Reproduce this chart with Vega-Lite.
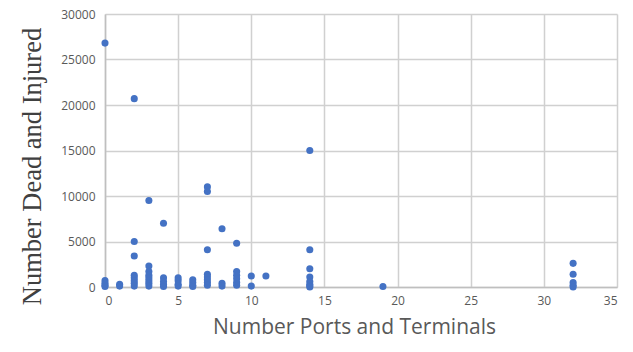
{
  "$schema": "https://vega.github.io/schema/vega-lite/v6.json",
  "width": 512,
  "height": 273,
  "autosize": "none",
  "padding": {"left": 105, "top": 14, "right": 16, "bottom": 65},
  "background": "white",
  "config": {"view": {"stroke": null}},
  "data": {"values": [
    {"ports": 0, "casualties": 26800}, {"ports": 0, "casualties": 700}, {"ports": 0, "casualties": 400}, {"ports": 0, "casualties": 200}, {"ports": 0, "casualties": 50},
    {"ports": 1, "casualties": 300}, {"ports": 1, "casualties": 100},
    {"ports": 2, "casualties": 20700}, {"ports": 2, "casualties": 5000}, {"ports": 2, "casualties": 3400}, {"ports": 2, "casualties": 1300}, {"ports": 2, "casualties": 1000}, {"ports": 2, "casualties": 700}, {"ports": 2, "casualties": 400}, {"ports": 2, "casualties": 100},
    {"ports": 3, "casualties": 9500}, {"ports": 3, "casualties": 2300}, {"ports": 3, "casualties": 1700}, {"ports": 3, "casualties": 1300}, {"ports": 3, "casualties": 1000}, {"ports": 3, "casualties": 700}, {"ports": 3, "casualties": 400}, {"ports": 3, "casualties": 100},
    {"ports": 4, "casualties": 7000}, {"ports": 4, "casualties": 1000}, {"ports": 4, "casualties": 600}, {"ports": 4, "casualties": 300}, {"ports": 4, "casualties": 50},
    {"ports": 5, "casualties": 1000}, {"ports": 5, "casualties": 700}, {"ports": 5, "casualties": 300}, {"ports": 5, "casualties": 100},
    {"ports": 6, "casualties": 800}, {"ports": 6, "casualties": 500}, {"ports": 6, "casualties": 200}, {"ports": 6, "casualties": 50},
    {"ports": 7, "casualties": 11000}, {"ports": 7, "casualties": 10500}, {"ports": 7, "casualties": 4100}, {"ports": 7, "casualties": 1400}, {"ports": 7, "casualties": 1100}, {"ports": 7, "casualties": 800}, {"ports": 7, "casualties": 500}, {"ports": 7, "casualties": 200},
    {"ports": 8, "casualties": 6400}, {"ports": 8, "casualties": 400}, {"ports": 8, "casualties": 100},
    {"ports": 9, "casualties": 4800}, {"ports": 9, "casualties": 1700}, {"ports": 9, "casualties": 1300}, {"ports": 9, "casualties": 900}, {"ports": 9, "casualties": 500}, {"ports": 9, "casualties": 200},
    {"ports": 10, "casualties": 1200}, {"ports": 10, "casualties": 100},
    {"ports": 11, "casualties": 1200},
    {"ports": 14, "casualties": 15000}, {"ports": 14, "casualties": 4100}, {"ports": 14, "casualties": 2000}, {"ports": 14, "casualties": 1100}, {"ports": 14, "casualties": 600}, {"ports": 14, "casualties": 300}, {"ports": 14, "casualties": 100}, {"ports": 14, "casualties": 0},
    {"ports": 19, "casualties": 50},
    {"ports": 32, "casualties": 2600}, {"ports": 32, "casualties": 1400}, {"ports": 32, "casualties": 500}, {"ports": 32, "casualties": 200}, {"ports": 32, "casualties": 0}
  ]},
  "mark": {"type": "circle", "size": 50, "opacity": 1, "color": "#4472C4"},
  "encoding": {
    "x": {
      "field": "ports", "type": "quantitative",
      "scale": {"domain": [0, 35], "nice": false},
      "axis": {
        "title": "Number Ports and Terminals",
        "titleFont": "Open Sans", "titleFontSize": 21, "titleFontWeight": "normal", "titleColor": "#595959", "titlePadding": 10, "titleX": 249,
        "values": [0, 5, 10, 15, 20, 25, 30, 35],
        "labelFont": "Open Sans", "labelFontSize": 12, "labelColor": "#595959", "labelPadding": 8,
        "ticks": false, "domainColor": "#bfbfbf", "domainWidth": 1.5,
        "grid": true, "gridColor": "#d0d0d0", "gridWidth": 1.5
      }
    },
    "y": {
      "field": "casualties", "type": "quantitative",
      "scale": {"domain": [0, 30000], "nice": false},
      "axis": {
        "title": "Number Dead and Injured",
        "titleFont": "Liberation Serif", "titleFontSize": 26.5, "titleFontWeight": "normal", "titleColor": "#404040", "titlePadding": 14, "titleY": 152,
        "values": [0, 5000, 10000, 15000, 20000, 25000, 30000],
        "format": "d",
        "labelFont": "Open Sans", "labelFontSize": 12, "labelColor": "#595959", "labelPadding": 10,
        "ticks": false, "domainColor": "#bfbfbf", "domainWidth": 1.5,
        "grid": true, "gridColor": "#d0d0d0", "gridWidth": 1.5
      }
    }
  }
}
